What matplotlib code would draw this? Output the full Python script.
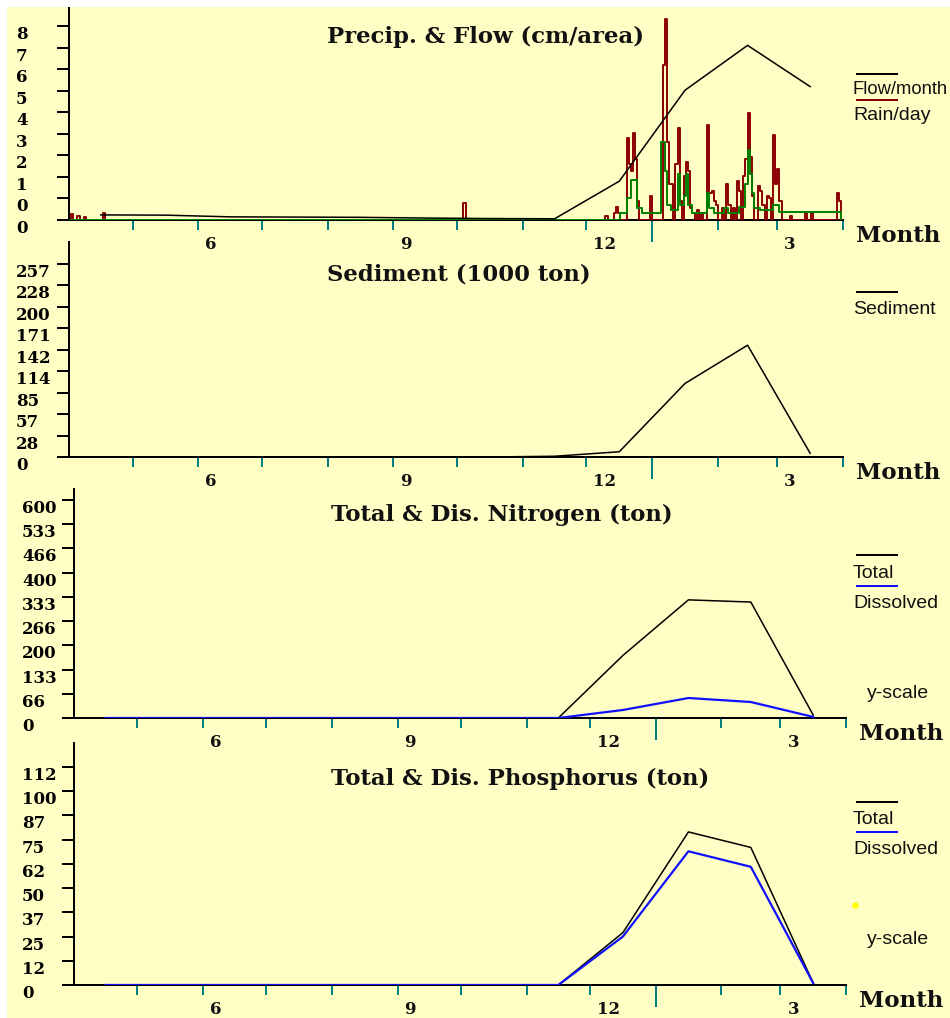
import numpy as np
import matplotlib
matplotlib.use("Agg")
import matplotlib.pyplot as plt
from matplotlib.lines import Line2D
from matplotlib.patches import Rectangle

W, H, DPI = 950, 1018, 100
PT = 72.0 / DPI  # points per pixel

# ---------------- data ----------------
month_lengths = [30, 31, 30, 31, 31, 30, 31, 30, 31, 31, 28, 31]   # Apr .. Mar
month_numbers = [4, 5, 6, 7, 8, 9, 10, 11, 12, 1, 2, 3]
labelled_months = [6, 9, 12, 3]

# monthly flow (cm/area), one value per month Apr..Mar
flow_month = [0.21, 0.20, 0.13, 0.12, 0.11, 0.08, 0.06, 0.05, 1.6, 5.35, 7.2, 5.5]

# daily rain (cm) - non zero days, day 0 = 1 April
rain_days = [1, 4, 7, 16, 186, 253, 257, 258, 259,
             263, 264, 265, 266, 267, 268, 274,
             280, 281, 282, 283, 284, 286, 287, 288,
             290, 291, 292, 293, 294, 296, 298,
             301, 302, 303, 304, 305, 308, 310, 311, 313,
             315, 316, 318, 319, 320, 321, 322,
             325, 326, 327, 329, 330, 332, 333, 334, 335,
             340, 347, 350, 362, 363]
rain_vals = [0.25, 0.15, 0.12, 0.3, 0.7, 0.15, 0.3, 0.55, 0.3,
             3.4, 2.3, 2.0, 3.6, 2.5, 0.8, 1.0,
             6.4, 8.3, 3.2, 1.5, 1.5, 2.3, 3.8, 0.8,
             1.8, 2.4, 2.0, 0.5, 0.3, 0.4, 0.3,
             3.9, 1.1, 1.2, 0.8, 0.6, 0.5, 1.5, 0.6, 0.5,
             1.6, 1.2, 1.8, 2.5, 4.4, 2.6, 1.0,
             1.4, 1.2, 0.6, 1.0, 0.9, 3.5, 1.5, 2.1, 0.8,
             0.15, 0.3, 0.3, 1.1, 0.8]

# daily flow (green step line) - change points
dflow_days = [0, 260, 263, 265, 268, 270, 279, 281, 282, 284, 287, 288, 290, 291,
              292, 294, 301, 302, 304, 309, 311, 316, 319, 320, 321, 322, 323,
              326, 332, 335, 364]
dflow_vals = [0.0, 0.3, 0.9, 1.65, 0.5, 0.3, 3.2, 2.0, 0.6, 0.4, 1.9, 0.6, 1.0, 1.9,
              0.6, 0.3, 1.1, 0.5, 0.3, 0.5, 0.3, 0.55, 1.5, 2.9, 1.9, 1.1, 0.5,
              0.4, 0.6, 0.33, 0.0]

sediment_month = [0, 0, 0, 0, 0, 0, 0, 1, 7, 98, 149, 5]
n_total_month = [0, 0, 0, 0, 0, 0, 0, 0, 172, 325, 319, 8]
n_dis_month = [0, 0, 0, 0, 0, 0, 0, 0, 22, 55, 44, 3]
p_total_month = [0, 0, 0, 0, 0, 0, 0, 0, 27, 79, 71, 1]
p_dis_month = [0, 0, 0, 0, 0, 0, 0, 0, 25, 69, 61, 1]

flow_ticklabels = ["0", "0", "1", "2", "3", "4", "5", "6", "7", "8"]
sed_ticklabels = ["0", "28", "57", "85", "114", "142", "171", "200", "228", "257"]
n_ticklabels = ["0", "66", "133", "200", "266", "333", "400", "466", "533", "600"]
p_ticklabels = ["0", "12", "25", "37", "50", "62", "75", "87", "100", "112"]
flow_step, sed_step, n_step, p_step = 8 / 9, 200 / 7, 600 / 9, 12.5

titles = ["Precip. & Flow (cm/area)", "Sediment (1000 ton)",
          "Total & Dis. Nitrogen (ton)", "Total & Dis. Phosphorus (ton)"]

# ---------------- styling ----------------
BG = "#FFFEC4"
TEAL = "#008080"
RAIN = "#8B0000"
GREEN = "#008000"
BLUE = "#1010FF"
SERIF = "DejaVu Serif"
SANS = "Liberation Sans"

month_starts = np.concatenate([[0], np.cumsum(month_lengths)])
month_mid = month_starts[:-1] + np.array(month_lengths) / 2.0
xmax = month_starts[-1]

fig = plt.figure(figsize=(W / DPI, H / DPI), dpi=DPI)
fig.patch.set_facecolor("white")
fig.add_artist(Rectangle((7 / W, 0), 1 - 7 / W, 1 - 7 / H, transform=fig.transFigure,
                         facecolor=BG, edgecolor="none", zorder=-10))


def px_axes(left, top, right, bottom):
    ax = fig.add_axes([left / W, 1 - bottom / H, (right - left) / W, (bottom - top) / H])
    ax.set_facecolor(BG)
    ax.patch.set_alpha(0)
    return ax


def style_axes(ax, step, labels, ymax, label_left_px, axis_left_px):
    ax.set_xlim(0, xmax)
    ax.set_ylim(0, ymax)
    for s in ["top", "right"]:
        ax.spines[s].set_visible(False)
    for s in ["left", "bottom"]:
        ax.spines[s].set_linewidth(2 * PT)
        ax.spines[s].set_color("black")
    yt = [k * step for k in range(len(labels))]
    ax.set_yticks(yt)
    ticklen = 12 * PT
    pad = (axis_left_px - label_left_px) * PT - ticklen
    ax.set_yticklabels(labels, fontfamily=SERIF, fontweight="bold", fontsize=12,
                       ha="left", va="top")
    ax.tick_params(axis="y", direction="out", length=ticklen, width=2 * PT,
                   color="black", pad=pad)
    ax.set_xticks(month_starts[1:])
    ax.set_xticklabels([])
    ax.tick_params(axis="x", direction="out", length=10 * PT, width=2 * PT, color=TEAL)
    jan_idx = month_numbers.index(1)
    for t, d in zip(ax.xaxis.get_major_ticks(), month_starts[1:]):
        if d == month_starts[jan_idx]:
            t.tick1line.set_markersize(22 * PT)
    for m in labelled_months:
        i = month_numbers.index(m)
        ax.annotate(str(m), xy=(month_starts[i], 0), xycoords=("data", "axes fraction"),
                    xytext=(7 * PT, -16 * PT), textcoords="offset points",
                    ha="left", va="top", fontfamily=SERIF, fontweight="bold",
                    fontsize=12, color="#111111")
    ax.annotate("Month", xy=(1, 0), xycoords="axes fraction",
                xytext=(13 * PT, -5 * PT), textcoords="offset points",
                ha="left", va="top", fontfamily=SERIF, fontweight="bold",
                fontsize=16.5, color="#111111", annotation_clip=False)


def title(text, x_px, y_px):
    fig.text(x_px / W, 1 - y_px / H, text, fontfamily=SERIF, fontweight="bold",
             fontsize=16.4, ha="left", va="center", color="#111111")


def legend_line(y_px, color, x0=857, x1=897):
    fig.add_artist(Line2D([x0 / W, x1 / W], [1 - y_px / H, 1 - y_px / H],
                          transform=fig.transFigure, color=color, lw=2 * PT))


def legend_text(text, x_px, y_px, size=14):
    fig.text(x_px / W, 1 - y_px / H, text, fontfamily=SANS, fontsize=size,
             ha="left", va="center", color="#111111")


# ---------------- chart 1 ----------------
ax1 = px_axes(69, 8, 843, 220)
days = np.arange(int(xmax) + 1)
rain_daily = np.zeros(len(days))
rain_daily[rain_days] = rain_vals
ax1.step(days, rain_daily, where="post", color=RAIN, lw=1.4, zorder=3)
ax1.step(dflow_days, dflow_vals, where="post", color=GREEN, lw=1.4, zorder=4)
ax1.plot(month_mid, flow_month, color="black", lw=1.1, zorder=5)
style_axes(ax1, flow_step, flow_ticklabels, 8.74, 16, 69)
title(titles[0], 327, 37)
legend_line(74, "black")
legend_text("Flow/month", 852, 90, size=13.2)
legend_line(100, RAIN)
legend_text("Rain/day", 853, 116)

# ---------------- chart 2 ----------------
ax2 = px_axes(69, 242, 843, 457)
ax2.plot(month_mid, sediment_month, color="black", lw=1.1, zorder=5)
style_axes(ax2, sed_step, sed_ticklabels, 286.5, 16, 69)
title(titles[1], 327, 274)
legend_line(292, "black")
legend_text("Sediment", 853, 310)

# ---------------- chart 3 ----------------
ax3 = px_axes(74, 489, 846, 718)
ax3.plot(month_mid, n_total_month, color="black", lw=1.1, zorder=5)
ax3.plot(month_mid, n_dis_month, color=BLUE, lw=1.6, zorder=6)
style_axes(ax3, n_step, n_ticklabels, 630, 22, 74)
title(titles[2], 331, 515)
legend_line(555, "black")
legend_text("Total", 853, 574)
legend_line(586, BLUE)
legend_text("Dissolved", 853, 603)
legend_text("y-scale", 867, 693)

# ---------------- chart 4 ----------------
ax4 = px_axes(74, 743, 846, 985)
ax4.plot(month_mid, p_total_month, color="black", lw=1.1, zorder=5)
ax4.plot(month_mid, p_dis_month, color=BLUE, lw=1.6, zorder=6)
style_axes(ax4, p_step, p_ticklabels, 124.9, 22, 74)
title(titles[3], 331, 779)
legend_line(802, "black")
legend_text("Total", 853, 820)
legend_line(832, BLUE)
legend_text("Dissolved", 853, 850)
legend_text("y-scale", 867, 940)
fig.add_artist(Line2D([855 / W], [1 - 905 / H], transform=fig.transFigure,
                      marker="o", markersize=5 * PT, color="#FFFF00", lw=0))

fig.savefig("out.png", dpi=DPI, facecolor=fig.get_facecolor())
